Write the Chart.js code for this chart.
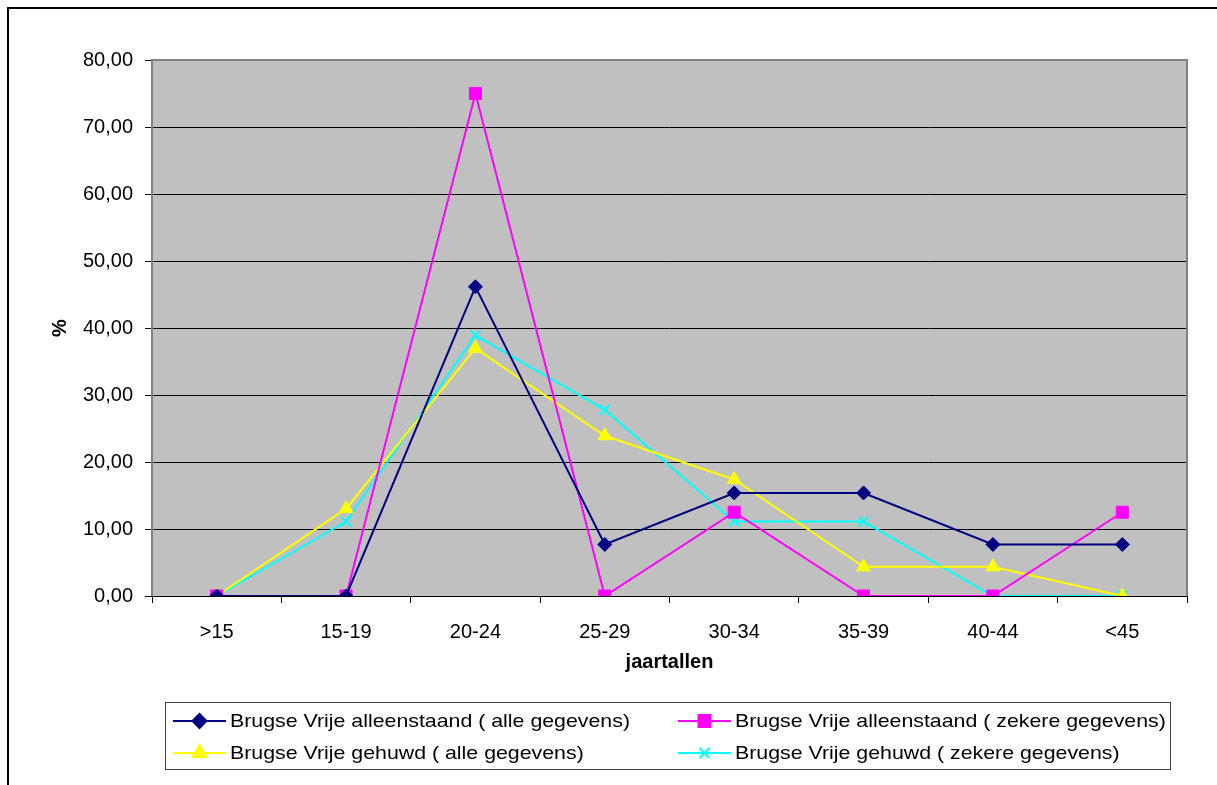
<!DOCTYPE html>
<html>
<head>
<meta charset="utf-8">
<script src="https://cdn.jsdelivr.net/npm/chart.js@4/dist/chart.umd.min.js"></script>
<style>
  body { margin: 0; background: #fff; }
  canvas { display: block; }
</style>
</head>
<body>
<canvas id="leeftijdChart" width="1217" height="785"></canvas>
<script>
// leeftijdsgroepen
var categories = ['>15', '15-19', '20-24', '25-29', '30-34', '35-39', '40-44', '<45'];

// percentages per reeks
var alleenstaandAlle = [0, 0, 46.15, 7.69, 15.38, 15.38, 7.69, 7.69];
var alleenstaandZeker = [0, 0, 75.00, 0, 12.50, 0, 0, 12.50];
var gehuwdAlle = [0, 13.04, 36.96, 23.91, 17.39, 4.35, 4.35, 0];
var gehuwdZeker = [0, 11.11, 38.89, 27.78, 11.11, 11.11, 0, 0];

var seriesNames = [
  'Brugse Vrije alleenstaand ( alle gegevens)',
  'Brugse Vrije alleenstaand ( zekere gegevens)',
  'Brugse Vrije gehuwd ( alle gegevens)',
  'Brugse Vrije gehuwd ( zekere gegevens)'
];

var yTicks = [0, 10, 20, 30, 40, 50, 60, 70, 80];

var FONT = '"Liberation Sans", Arial, sans-serif';
Chart.defaults.font.family = FONT;
Chart.defaults.font.size = 20;
Chart.defaults.color = '#000';

function makeSet(label, data, color, style, radius) {
  return {
    label: label,
    data: data,
    borderColor: color,
    backgroundColor: color,
    pointBackgroundColor: color,
    pointBorderColor: color,
    borderWidth: 2,
    pointStyle: style,
    pointRadius: radius,
    pointHoverRadius: radius,
    pointBorderWidth: style === 'crossRot' ? 2 : 1,
    tension: 0
  };
}

var datasets = [
  makeSet(seriesNames[0], alleenstaandAlle, '#000080', 'rectRot', 7),
  makeSet(seriesNames[1], alleenstaandZeker, '#FF00FF', 'rect', 8.5),
  makeSet(seriesNames[2], gehuwdAlle, '#FFFF00', 'triangle', 8),
  makeSet(seriesNames[3], gehuwdZeker, '#00FFFF', 'crossRot', 7)
];

// grijze achtergrond + kader van de plot, buitenkader, legende
var excelLook = {
  id: 'excelLook',
  beforeDraw: function(chart) {
    var ctx = chart.ctx, a = chart.chartArea;
    ctx.save();
    ctx.fillStyle = '#fff';
    ctx.fillRect(0, 0, chart.width, chart.height);
    ctx.fillStyle = '#C0C0C0';
    ctx.fillRect(a.left, a.top, a.right - a.left, a.bottom - a.top);
    // buitenkader (alleen boven en links zichtbaar)
    ctx.strokeStyle = '#000';
    ctx.lineWidth = 2;
    ctx.beginPath();
    ctx.moveTo(8, chart.height);
    ctx.lineTo(8, 8);
    ctx.lineTo(chart.width, 8);
    ctx.stroke();
    ctx.restore();
  },
  beforeDatasetsDraw: function(chart) {
    var ctx = chart.ctx, a = chart.chartArea;
    ctx.save();
    ctx.strokeStyle = '#808080';
    ctx.lineWidth = 2;
    ctx.beginPath();
    ctx.moveTo(a.left, a.bottom);
    ctx.lineTo(a.left, a.top);
    ctx.lineTo(a.right, a.top);
    ctx.lineTo(a.right, a.bottom);
    ctx.stroke();
    ctx.strokeStyle = '#000';
    ctx.lineWidth = 1;
    ctx.beginPath();
    ctx.moveTo(a.left, a.bottom + 0.5);
    ctx.lineTo(a.right, a.bottom + 0.5);
    ctx.stroke();
    ctx.restore();
  },
  afterDraw: function(chart) {
    var ctx = chart.ctx;
    ctx.save();
    ctx.strokeStyle = '#404040';
    ctx.lineWidth = 1;
    ctx.strokeRect(165.5, 702.5, 1005, 67);
    ctx.font = '19px ' + FONT;
    // tekst in de legende is wat breder getekend dan normaal
    var sx = 400 / ctx.measureText(seriesNames[0]).width;
    var cols = [173, 678];
    var rows = [721, 753];
    chart.data.datasets.forEach(function(ds, i) {
      var x = cols[i % 2], y = rows[Math.floor(i / 2)];
      ctx.strokeStyle = ds.borderColor;
      ctx.lineWidth = 2;
      ctx.beginPath();
      ctx.moveTo(x, y);
      ctx.lineTo(x + 53, y);
      ctx.stroke();
      ctx.fillStyle = ds.backgroundColor;
      Chart.helpers.drawPoint(ctx, {
        pointStyle: ds.pointStyle,
        radius: ds.pointRadius,
        rotation: 0,
        borderWidth: ds.pointBorderWidth
      }, x + 26.5, y);
      ctx.save();
      ctx.fillStyle = '#000';
      ctx.textBaseline = 'middle';
      ctx.textAlign = 'left';
      ctx.translate(x + 57, y);
      ctx.scale(sx, 1);
      ctx.fillText(ds.label, 0, 1);
      ctx.restore();
    });
    ctx.restore();
  }
};

new Chart(document.getElementById('leeftijdChart'), {
  type: 'line',
  data: {
    labels: categories,
    datasets: datasets
  },
  options: {
    responsive: false,
    animation: false,
    layout: {
      padding: { left: 44, top: 60, right: 30, bottom: 107 }
    },
    plugins: {
      legend: { display: false },
      tooltip: { enabled: false }
    },
    scales: {
      x: {
        offset: true,
        grid: {
          offset: true,
          drawOnChartArea: false,
          color: '#000',
          tickLength: 7
        },
        border: { display: false },
        ticks: { padding: 17, maxRotation: 0 },
        title: {
          display: true,
          text: 'jaartallen',
          font: { weight: 'bold', size: 20 }
        },
        afterFit: function(scale) { scale.height = 82; }
      },
      y: {
        min: 0,
        max: 80,
        afterBuildTicks: function(scale) {
          scale.ticks = yTicks.map(function(v) { return { value: v }; });
        },
        grid: {
          color: '#000',
          lineWidth: 1,
          tickLength: 7
        },
        border: { display: false },
        ticks: {
          padding: 12,
          callback: function(v) { return v.toFixed(2).replace('.', ','); }
        },
        title: {
          display: true,
          text: '%',
          font: { weight: 'bold', size: 20 }
        },
        afterFit: function(scale) { scale.width = 108; }
      }
    }
  },
  plugins: [excelLook]
});
</script>
</body>
</html>
